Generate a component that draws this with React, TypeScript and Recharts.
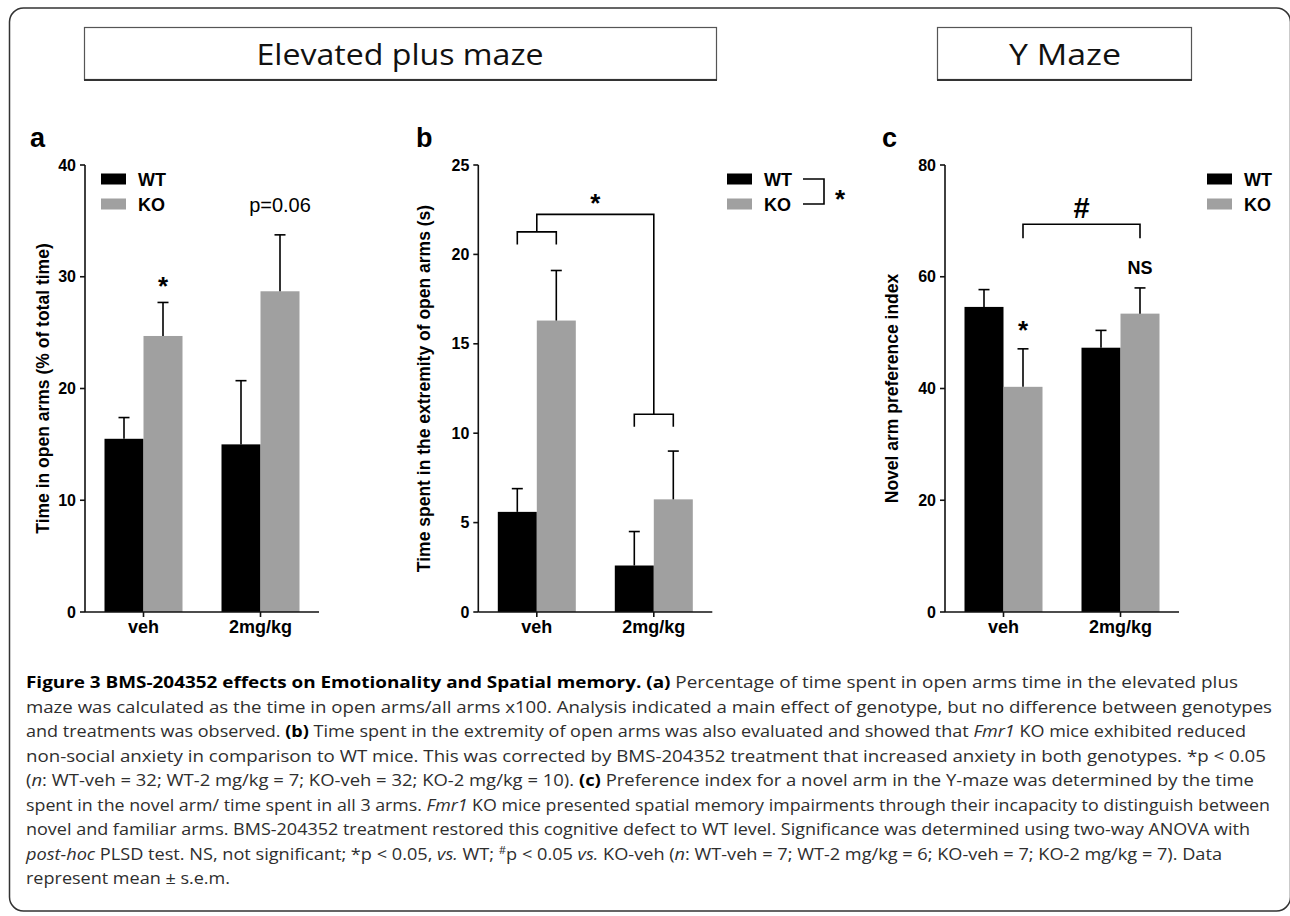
import React from 'react';
import { BarChart, Bar, XAxis, YAxis, Legend } from 'recharts';

// ---------- data ----------
const categories = ['veh', '2mg/kg'];
const seriesNames = ['WT', 'KO'];
const seriesColors = ['#000000', '#a0a0a0'];

// (a) Time in open arms (% of total time)
const openArmsWT = [15.5, 15.0];
const openArmsWTSem = [1.9, 5.7];
const openArmsKO = [24.7, 28.7];
const openArmsKOSem = [3.0, 5.05];
const openArmsTicks = [0, 10, 20, 30, 40];

// (b) Time spent in the extremity of open arms (s)
const extremityWT = [5.6, 2.6];
const extremityWTSem = [1.3, 1.9];
const extremityKO = [16.3, 6.3];
const extremityKOSem = [2.8, 2.7];
const extremityTicks = [0, 5, 10, 15, 20, 25];

// (c) Novel arm preference index
const novelArmWT = [54.6, 47.3];
const novelArmWTSem = [3.1, 3.1];
const novelArmKO = [40.3, 53.4];
const novelArmKOSem = [6.8, 4.6];
const novelArmTicks = [0, 20, 40, 60, 80];

// significance annotation levels (data units of each panel)
const aStarLevel = 29.7;
const aPLevel = 36.4;
const bInnerLevels = [21.26, 11.06]; // small brackets over veh / 2mg/kg
const bLegDrop = 0.7;
const bTopLevel = 22.24;
const bStarLevel = 23.2;
const cBracketLevel = 69.4;
const cLegLevel = 66.9;
const cHashLevel = 72.4;
const cNSLevel = 61.7;
const cStarLevel = 51.6;

const ARIAL = "'Liberation Sans', Arial, Helvetica, sans-serif";
const CAPTION = "'Open Sans', 'Noto Sans', sans-serif";

const buildRows = (wt: number[], wtSem: number[], ko: number[], koSem: number[]) =>
  categories.map((c, i) => ({ group: c, wt: wt[i], wtSem: wtSem[i], ko: ko[i], koSem: koSem[i] }));

const rowsA = buildRows(openArmsWT, openArmsWTSem, openArmsKO, openArmsKOSem);
const rowsB = buildRows(extremityWT, extremityWTSem, extremityKO, extremityKOSem);
const rowsC = buildRows(novelArmWT, novelArmWTSem, novelArmKO, novelArmKOSem);

type Geo = { wt: number[]; ko: number[]; y: (v: number) => number };

const txt = (key: string, x: number, yCenter: number, text: string, fontSize: number, weight: string, lift: number) => (
  <text key={key} x={x} y={yCenter + lift * fontSize} textAnchor="middle" fontSize={fontSize} fontWeight={weight}
    fontFamily={ARIAL} fill="#000">{text}</text>
);

const STROKE = { fill: 'none', stroke: '#000', strokeWidth: 1.6 };

const drawA = (g: Geo) => [
  txt('a1', g.ko[0], g.y(aStarLevel), '*', 26, 'bold', 0.58),
  txt('a2', g.ko[1], g.y(aPLevel), 'p=0.06', 20, 'normal', 0.36),
];

const drawB = (g: Geo) => {
  const mid0 = (g.wt[0] + g.ko[0]) / 2;
  const mid1 = (g.wt[1] + g.ko[1]) / 2;
  const [l0, l1] = bInnerLevels;
  return [
    <path key="b1" {...STROKE} d={`M${g.wt[0]} ${g.y(l0 - bLegDrop)} V${g.y(l0)} H${g.ko[0]} V${g.y(l0 - bLegDrop)}`} />,
    <path key="b2" {...STROKE} d={`M${mid0} ${g.y(l0)} V${g.y(bTopLevel)} H${mid1} V${g.y(l1)}`} />,
    <path key="b3" {...STROKE} d={`M${g.wt[1]} ${g.y(l1 - bLegDrop)} V${g.y(l1)} H${g.ko[1]} V${g.y(l1 - bLegDrop)}`} />,
    txt('b4', (mid0 + mid1) / 2, g.y(bStarLevel), '*', 26, 'bold', 0.58),
  ];
};

const drawC = (g: Geo) => [
  <path key="c1" {...STROKE} d={`M${g.ko[0]} ${g.y(cLegLevel)} V${g.y(cBracketLevel)} H${g.ko[1]} V${g.y(cLegLevel)}`} />,
  txt('c2', (g.ko[0] + g.ko[1]) / 2, g.y(cHashLevel), '#', 29, 'bold', 0.36),
  txt('c3', g.ko[1], g.y(cNSLevel), 'NS', 18, 'bold', 0.36),
  txt('c4', g.ko[0], g.y(cStarLevel), '*', 26, 'bold', 0.58),
];

// bar with upward s.e.m. error bar (scale derived from the bar's own pixel height);
// bar centres are recorded so the last KO bar can draw the significance marks
const makeShape = (valueKey: string, semKey: string, store: Geo, series: 'wt' | 'ko', draw?: (g: Geo) => React.ReactNode) => (props: any) => {
  const { x, y, width, height, fill, payload, index } = props;
  const v = payload[valueKey];
  const pxPerUnit = v ? height / v : 0;
  const e = payload[semKey] * pxPerUnit;
  const cx = x + width / 2;
  store[series][index] = cx;
  const y0 = y + height;
  store.y = (val: number) => y0 - val * pxPerUnit;
  const isLast = draw && index === categories.length - 1;
  return (
    <g>
      <rect x={x} y={y} width={width} height={height} fill={fill} />
      <line x1={cx} x2={cx} y1={y} y2={y - e} stroke="#000" strokeWidth={1.6} />
      <line x1={cx - 5.5} x2={cx + 5.5} y1={y - e} y2={y - e} stroke="#000" strokeWidth={1.6} />
      {isLast ? <g>{draw!(store)}</g> : null}
    </g>
  );
};

const LegendBox = ({ payload, bracket }: any) => {
  const items = [...(payload || [])].sort((a: any, b: any) => seriesNames.indexOf(a.value) - seriesNames.indexOf(b.value));
  return (
    <svg width={150} height={50} style={{ display: 'block', overflow: 'visible' }}>
      {items.map((e: any, i: number) => {
        const cy = 12 + i * 25;
        return (
          <g key={String(e.value)}>
            <rect x={0} y={cy - 5.5} width={25} height={11} fill={e.color} />
            <text x={37} y={cy + 6.5} fontSize={18} fontWeight="bold" fontFamily={ARIAL} fill="#000">{e.value}</text>
          </g>
        );
      })}
      {bracket && (
        <g>
          <path d="M76 12 H97 V37 H76" fill="none" stroke="#000" strokeWidth={1.6} />
          <text x={113} y={41} textAnchor="middle" fontSize={26} fontWeight="bold" fontFamily={ARIAL} fill="#000">*</text>
        </g>
      )}
    </svg>
  );
};

type PanelProps = {
  rows: any[];
  ticks: number[];
  yLabel: string;
  left: number;
  plotLeft: number;
  labelX: number;
  legendLeft: number;
  legendBracket?: boolean;
  draw: (g: Geo) => React.ReactNode;
};

const PLOT_W = 234;

const Panel = ({ rows, ticks, yLabel, left, plotLeft, labelX, legendLeft, legendBracket, draw }: PanelProps) => {
  const yw = 40;
  const W = 430;
  const H = 540;
  const yMax = ticks[ticks.length - 1];
  const store: Geo = { wt: [0, 0], ko: [0, 0], y: (v: number) => v };
  const yLabelContent = (props: any) => {
    const vb = props.viewBox || {};
    const cy = (vb.y ?? 45) + (vb.height ?? 447) / 2;
    return (
      <text x={labelX} y={cy} transform={`rotate(-90 ${labelX} ${cy})`} textAnchor="middle"
        dominantBaseline="central" fontSize={17.5} fontWeight="bold" fontFamily={ARIAL} fill="#000">{yLabel}</text>
    );
  };
  return (
    <div style={{ position: 'absolute', left, top: 120, width: W, height: H }}>
      <BarChart width={W} height={H} data={rows}
        margin={{ top: 45, right: W - plotLeft - PLOT_W, bottom: 18, left: plotLeft - yw }}
        barCategoryGap={19.5} barGap={0}>
        <XAxis dataKey="group" interval={0} height={30} tickSize={5} tickMargin={3}
          axisLine={{ stroke: '#111', strokeWidth: 1.6 }} tickLine={{ stroke: '#111', strokeWidth: 1.6 }}
          tick={{ fill: '#000', fontSize: 18, fontWeight: 'bold', fontFamily: ARIAL }} />
        <YAxis width={yw} domain={[0, yMax]} ticks={ticks} interval={0} tickSize={5} tickMargin={4}
          allowDataOverflow
          axisLine={{ stroke: '#111', strokeWidth: 1.6 }} tickLine={{ stroke: '#111', strokeWidth: 1.6 }}
          tick={{ fill: '#000', fontSize: 16, fontWeight: 'bold', fontFamily: ARIAL }}
          label={{ content: yLabelContent }} />
        <Legend layout="vertical" align="center" verticalAlign="middle"
          wrapperStyle={{ left: legendLeft, top: 47, width: 150, height: 50 }}
          content={(p: any) => <LegendBox payload={p.payload} bracket={legendBracket} />} />
        <Bar dataKey="wt" name={seriesNames[0]} fill={seriesColors[0]}
          shape={makeShape('wt', 'wtSem', store, 'wt')} isAnimationActive={false} />
        <Bar dataKey="ko" name={seriesNames[1]} fill={seriesColors[1]}
          shape={makeShape('ko', 'koSem', store, 'ko', draw)} isAnimationActive={false} />
      </BarChart>
    </div>
  );
};

// ---------- caption ----------
type Span = { t: string; b?: boolean; i?: boolean; sup?: boolean };
const captionLines: { spans: Span[]; end: number }[] = [
  { end: 1238, spans: [{ t: 'Figure 3 BMS-204352 effects on Emotionality and Spatial memory. (a)', b: true }, { t: ' Percentage of time spent in open arms time in the elevated plus' }] },
  { end: 1272, spans: [{ t: 'maze was calculated as the time in open arms/all arms x100. Analysis indicated a main effect of genotype, but no difference between genotypes' }] },
  { end: 1246, spans: [{ t: 'and treatments was observed. ' }, { t: '(b)', b: true }, { t: ' Time spent in the extremity of open arms was also evaluated and showed that ' }, { t: 'Fmr1', i: true }, { t: ' KO mice exhibited reduced' }] },
  { end: 1266, spans: [{ t: 'non-social anxiety in comparison to WT mice. This was corrected by BMS-204352 treatment that increased anxiety in both genotypes. *p < 0.05' }] },
  { end: 1254, spans: [{ t: '(' }, { t: 'n', i: true }, { t: ': WT-veh = 32; WT-2 mg/kg = 7; KO-veh = 32; KO-2 mg/kg = 10). ' }, { t: '(c)', b: true }, { t: ' Preference index for a novel arm in the Y-maze was determined by the time' }] },
  { end: 1270, spans: [{ t: 'spent in the novel arm/ time spent in all 3 arms. ' }, { t: 'Fmr1', i: true }, { t: ' KO mice presented spatial memory impairments through their incapacity to distinguish between' }] },
  { end: 1250, spans: [{ t: 'novel and familiar arms. BMS-204352 treatment restored this cognitive defect to WT level. Significance was determined using two-way ANOVA with' }] },
  { end: 1222, spans: [{ t: 'post-hoc', i: true }, { t: ' PLSD test. NS, not significant; *p < 0.05, ' }, { t: 'vs.', i: true }, { t: ' WT; ' }, { t: '#', sup: true }, { t: 'p < 0.05 ' }, { t: 'vs.', i: true }, { t: ' KO-veh (' }, { t: 'n', i: true }, { t: ': WT-veh = 7; WT-2 mg/kg = 6; KO-veh = 7; KO-2 mg/kg = 7). Data' }] },
  { end: 230, spans: [{ t: 'represent mean ± s.e.m.' }] },
];

const Background = () => (
  <svg width={1290} height={916} style={{ position: 'absolute', left: 0, top: 0 }}>
    <rect x={9.5} y={8} width={1281} height={903} rx={14} ry={14} fill="#fff" stroke="#333" strokeWidth={1.5} />
    {/* title boxes */}
    <rect x={84.5} y={27.5} width={632} height={52} fill="#fff" stroke="#555" strokeWidth={1.2} />
    <line x1={84} x2={717} y1={80} y2={80} stroke="#333" strokeWidth={2} />
    <text x={400} y={65} textAnchor="middle" fontSize={30} fontFamily={CAPTION} fill="#111" textLength={287} lengthAdjust="spacingAndGlyphs">Elevated plus maze</text>
    <rect x={937.5} y={27.5} width={254} height={52} fill="#fff" stroke="#555" strokeWidth={1.2} />
    <line x1={937} x2={1192} y1={80} y2={80} stroke="#333" strokeWidth={2} />
    <text x={1065} y={65} textAnchor="middle" fontSize={30} fontFamily={CAPTION} fill="#111" textLength={112} lengthAdjust="spacingAndGlyphs">Y Maze</text>
    {/* panel letters */}
    <text x={30} y={147} fontSize={27} fontWeight="bold" fontFamily={ARIAL} fill="#000">a</text>
    <text x={416} y={147} fontSize={27} fontWeight="bold" fontFamily={ARIAL} fill="#000">b</text>
    <text x={882} y={147} fontSize={27} fontWeight="bold" fontFamily={ARIAL} fill="#000">c</text>
    {/* caption */}
    {captionLines.map((ln, k) => (
      <text key={k} x={26} y={688 + k * 24.5} fontSize={16} fontFamily={CAPTION} fill="#2e2e2e"
        textLength={ln.end - 26} lengthAdjust="spacingAndGlyphs">
        {ln.spans.map((s, j) => (
          <tspan key={j} fontWeight={s.b ? 'bold' : 'normal'} fontStyle={s.i ? 'italic' : 'normal'}
            fill={s.b ? '#000' : '#2e2e2e'}
            fontSize={s.sup ? 10 : 16} dy={s.sup ? -6 : (j > 0 && ln.spans[j - 1].sup ? 6 : 0)}>{s.t}</tspan>
        ))}
      </text>
    ))}
  </svg>
);

export default function App() {
  return (
    <div style={{ position: 'absolute', left: 0, top: 0, width: 1290, height: 916, background: '#fff', overflow: 'hidden' }}>
      <Background />
      <Panel rows={rowsA} ticks={openArmsTicks} yLabel="Time in open arms (% of total time)"
        left={0} plotLeft={85} labelX={43} legendLeft={100.7} draw={drawA} />
      <Panel rows={rowsB} ticks={extremityTicks} yLabel="Time spent in the extremity of open arms (s)"
        left={400} plotLeft={78.3} labelX={24} legendLeft={327} legendBracket draw={drawB} />
      <Panel rows={rowsC} ticks={novelArmTicks} yLabel="Novel arm preference index"
        left={860} plotLeft={85} labelX={31.7} legendLeft={346.7} draw={drawC} />
    </div>
  );
}
